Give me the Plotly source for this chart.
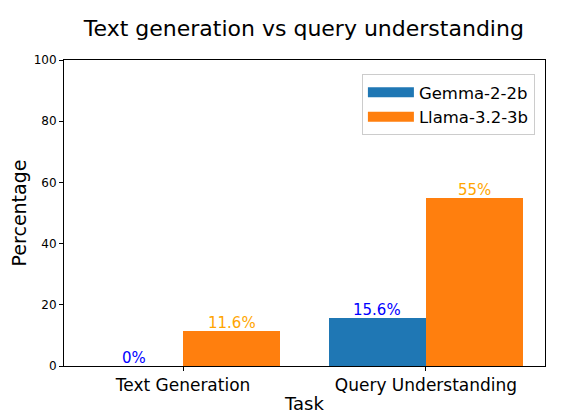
import plotly.graph_objects as go

tasks = ["Text Generation", "Query Understanding"]
gemma_values = [0, 15.6]
llama_values = [11.6, 55]
gemma_labels = ["0%", "15.6%"]
llama_labels = ["11.6%", "55%"]

positions = list(range(len(tasks)))
width = 0.4
font = "DejaVu Sans, sans-serif"
series = [
    ("Gemma-2-2b", gemma_values, gemma_labels, "#1f77b4", "blue", -width / 2),
    ("Llama-3.2-3b", llama_values, llama_labels, "#ff7f0e", "orange", width / 2),
]

fig = go.Figure()
for name, values, labels, color, label_color, offset in series:
    xs = [p + offset for p in positions]
    fig.add_trace(go.Bar(
        x=xs, y=values, width=width, name=name,
        marker=dict(color=color, line=dict(width=0)),
        showlegend=False,
    ))
    # wide legend swatch like matplotlib's patches
    fig.add_trace(go.Scatter(
        x=[None], y=[None], mode="lines", name=name,
        line=dict(color=color, width=13),
    ))
    for x, v, lab in zip(xs, values, labels):
        fig.add_annotation(
            x=x, y=v, text=lab, showarrow=False,
            yanchor="bottom", yshift=-3,
            font=dict(color=label_color, size=15, family=font),
        )

# page body has an 8px margin, so the figure is sized to fit the window
fig.update_layout(
    width=553,
    height=411,
    paper_bgcolor="white",
    plot_bgcolor="white",
    font=dict(family=font, color="black"),
    margin=dict(l=56, r=16, t=52, b=53, autoexpand=False),
    title=dict(text="Text generation vs query understanding", x=0.535, xanchor="center",
               y=0.951, yanchor="middle", font=dict(size=22), automargin=False),
    bargap=0,
    legend=dict(x=0.979, y=0.954, xanchor="right", yanchor="top",
                bgcolor="white", bordercolor="#cccccc", borderwidth=1,
                font=dict(size=16.5), itemwidth=46),
    showlegend=True,
)
fig.update_xaxes(
    range=[-0.49, 1.49],
    tickvals=positions,
    ticktext=tasks,
    tickfont=dict(size=17),
    title=dict(text="Task", font=dict(size=18), standoff=2),
    automargin=False,
    showline=True, linecolor="black", linewidth=1, mirror=True,
    ticks="outside", ticklen=4, tickcolor="black",
    showgrid=False, zeroline=False,
)
fig.update_yaxes(
    range=[0, 100],
    tickvals=[0, 20, 40, 60, 80, 100],
    tickfont=dict(size=12),
    title=dict(text="Percentage", font=dict(size=19), standoff=8),
    automargin=False,
    showline=True, linecolor="black", linewidth=1, mirror=True,
    ticks="outside", ticklen=4, tickcolor="black",
    showgrid=False, zeroline=False,
)

fig.write_html("out.html")
